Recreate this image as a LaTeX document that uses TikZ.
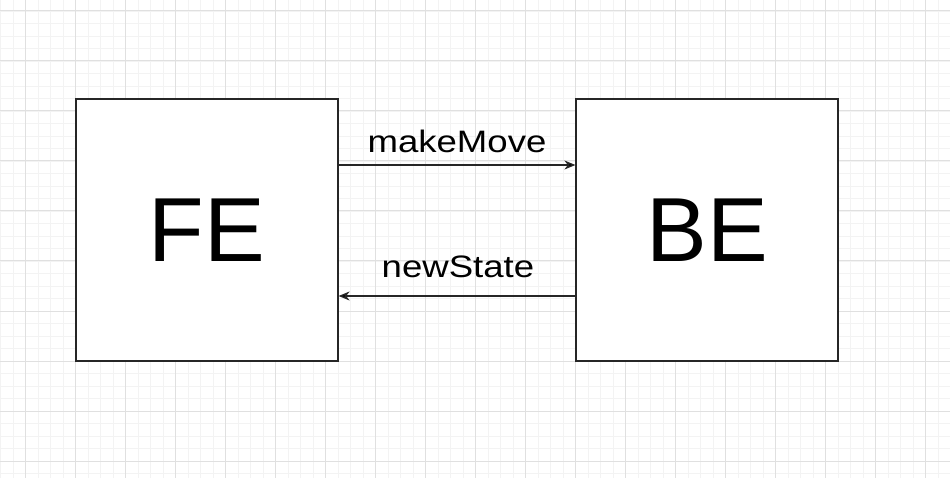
\documentclass[tikz,border=0pt]{standalone}
\usepackage{fontspec}
\setmainfont{Liberation Sans}
\usetikzlibrary{arrows.meta}
\definecolor{gmaj}{HTML}{E0E0E0}
\definecolor{gmin}{HTML}{F3F3F3}
\tikzset{
  box/.style={draw=black!85, line width=1.2pt, fill=white, minimum width=262pt, minimum height=262pt, inner sep=0pt, font=\fontsize{91}{91}\selectfont},
  conn/.style={draw=black!85, line width=1.3pt, -{Stealth[length=11pt,width=9pt,inset=3.5pt,fill=black]}},
  lbl/.style={font=\fontsize{31}{31}\selectfont, inner sep=0pt, xscale=1.18}
}
\begin{document}
\begin{tikzpicture}[x=1pt,y=-1pt]
\useasboundingbox (0,0) rectangle (950,478);
\fill[white] (0,0) rectangle (950,478);
\foreach \i in {0,...,80}{
  \draw[gmin, line width=0.8pt] ({0.5+12.5*\i},0) -- ({0.5+12.5*\i},478);
}
\foreach \i in {0,...,40}{
  \draw[gmin, line width=0.8pt] (0,{-1.5+12.5*\i}) -- (950,{-1.5+12.5*\i});
}
\foreach \i in {0,...,20}{
  \draw[gmaj, line width=1pt] ({25+50*\i},0) -- ({25+50*\i},478);
}
\foreach \i in {0,...,10}{
  \draw[gmaj, line width=1pt] (0,{11+50*\i}) -- (950,{11+50*\i});
}
\node[box] (fe) at (207,230) {FE};
\node[box] (be) at (707,230) {BE};
\coordinate (a1) at (fe.east |- 0,165);
\coordinate (a2) at (be.west |- 0,165);
\coordinate (b1) at (be.west |- 0,296);
\coordinate (b2) at (fe.east |- 0,296);
\draw[conn] (a1) -- (a2);
\draw[conn] (b1) -- (b2);
\node[lbl, anchor=base] (mm) at (457,153) {makeMove};
\node[lbl, anchor=base] (ns) at (458,278) {newState};
\end{tikzpicture}
\end{document}
